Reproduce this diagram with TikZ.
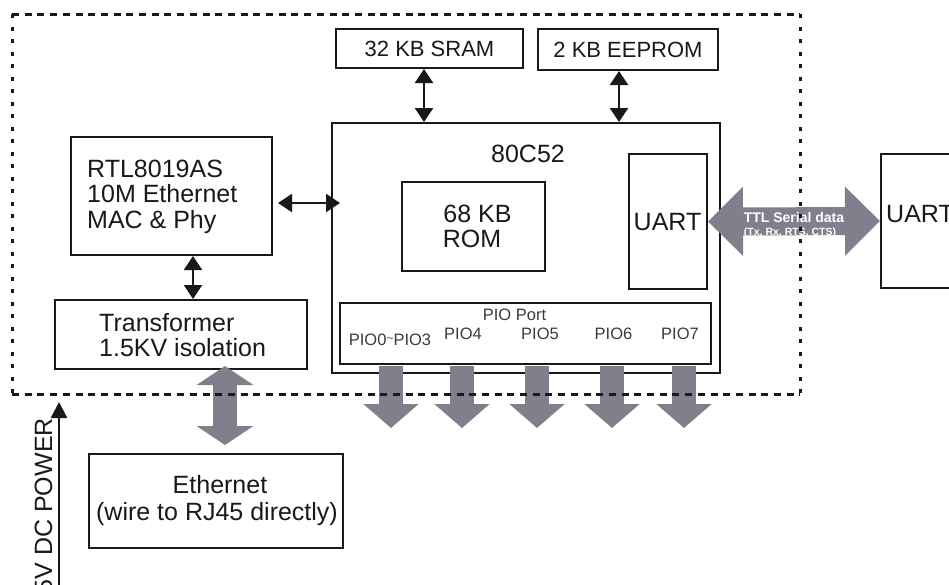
\documentclass[tikz,border=0pt]{standalone}
\usepackage{fontspec}
\setmainfont{Liberation Sans}
\usetikzlibrary{arrows.meta}
\definecolor{garrow}{RGB}{128,128,140}
\definecolor{ink}{RGB}{25,25,25}
\begin{document}
\begin{tikzpicture}[x=1pt,y=-1pt,
  box/.style args={#1/#2}{draw=ink,line width=2pt,minimum width=#1pt,minimum height=#2pt,inner sep=0pt},
  tA/.style={inner sep=0pt,text=ink,font=\fontsize{25}{25}\selectfont},
  tB/.style={inner sep=0pt,text=ink,font=\fontsize{22}{22}\selectfont},
  tP/.style={inner sep=0pt,anchor=base,text=ink!85,font=\fontsize{16.5}{16.5}\selectfont},
  barrow/.style={draw=ink,line width=2.5pt,{Triangle[width=18pt,length=14pt]}-{Triangle[width=18pt,length=14pt]}},
  gdbl/.style={draw=garrow,line width=24pt,{Triangle[width=56pt,length=19pt]}-{Triangle[width=56pt,length=19pt]}},
  gdown/.style={draw=garrow,line width=24pt,-{Triangle[width=54pt,length=24pt]}},
  dashH/.style={draw=ink,line width=3pt,dash pattern=on 7pt off 5.7pt},
  dotV/.style={draw=ink,line width=3pt,dash pattern=on 4pt off 8.5pt}]
\useasboundingbox (0,0) rectangle (949,584);
\clip (0,0) rectangle (949,584);
\fill[white] (0,0) rectangle (949,584);

% boxes
\node[box={187/39},tB] (sram) at (429.5,48.5) {32 KB SRAM};
\node[box={180/41},tB] (eep) at (628,49.5) {2 KB EEPROM};
\node[box={388/250}] (main) at (526,248) {};
\node[box={371/61}] (pio) at (525.5,333.5) {};
\node[box={143/89}] (rom) at (473.5,226.5) {};
\node[box={78/135}] (uart) at (668,221.5) {};
\node[box={80/134}] (uart2) at (921,221) {};
\node[box={201/118}] (rtl) at (171.5,196) {};
\node[box={252/69}] (trans) at (181,334.5) {};
\node[box={254/94}] (eth) at (216,501) {};

% texts
\node[tA,anchor=base] (t80) at (528,162) {80C52};
\node[tA,anchor=base] (trom1) at (477.5,222) {68 KB};
\node[tA,anchor=base] (trom2) at (472,247) {ROM};
\node[tA,anchor=base] (tuart) at (667.5,230) {UART};
\node[tA,anchor=base west] (tuart2) at (886,222) {UART};
\node[tA,anchor=base west] (trtl1) at (87,177) {RTL8019AS};
\node[tA,anchor=base west] (trtl2) at (87,202) {10M Ethernet};
\node[tA,anchor=base west] (trtl3) at (87,228) {MAC \& Phy};
\node[tA,anchor=base west] (ttr1) at (99,331) {Transformer};
\node[tA,anchor=base west] (ttr2) at (99,356) {1.5KV isolation};
\node[tA,anchor=base] (teth1) at (220,493) {Ethernet};
\node[tA,anchor=base] (teth2) at (217,520) {(wire to RJ45 directly)};
\node[tP] (tpp) at (514.5,320) {PIO Port};
\node[tP] (tp0) at (390,345) {PIO0\raisebox{0.15em}{\fontsize{12}{12}\selectfont\textasciitilde}PIO3};
\node[tP] (tp4) at (463,339) {PIO4};
\node[tP] (tp5) at (540,339) {PIO5};
\node[tP] (tp6) at (613.5,339) {PIO6};
\node[tP] (tp7) at (680,339) {PIO7};

% black arrows
\draw[barrow] ([xshift=-5.5pt]sram.south) -- ([xshift=-5.5pt]sram.south |- main.north);
\draw[barrow] ([xshift=-9pt]eep.south) -- ([xshift=-9pt]eep.south |- main.north);
\draw[barrow] ([shift={(5,7)}]rtl.east) -- ([shift={(9,7)}]rtl.east -| main.west);
\draw[barrow] ([xshift=21.5pt]rtl.south) -- ([xshift=21.5pt]rtl.south |- trans.north);

% gray block arrows
\coordinate (e1) at (225,366);
\coordinate (e2) at (225,445);
\draw[gdbl] (e1) -- (e2);
\draw[draw=garrow,line width=28pt,{Triangle[width=67pt,length=35pt]}-{Triangle[width=67pt,length=35pt]}] (uart.east) -- (uart2.west);
\node[inner sep=0pt,anchor=base,text=white,font=\fontsize{14}{14}\selectfont\bfseries] (tttl1) at (794,222) {TTL Serial data};
\node[inner sep=0pt,anchor=base,text=white,font=\fontsize{10.5}{10.5}\selectfont\bfseries] (tttl2) at (790,235) {(Tx, Rx, RTS, CTS)};
\foreach \d/\n in {52/a,123/b,198/c,273/d,345/e}{
  \draw[gdown] ([shift={(\d,1)}]pio.south west) -- ([shift={(\d,63)}]pio.south west);
}

% power arrow
\coordinate (pw0) at (59,590);
\coordinate (pw1) at (59,402);
\draw[draw=ink,line width=2.5pt,-{Triangle[width=16pt,length=16pt]}] (pw0) -- (pw1);
\node[tA,anchor=base east,rotate=90] (tpw) at (52,418) {5V DC POWER};

% dotted enclosure
\coordinate (d1) at (12,14);
\coordinate (d2) at (800,14);
\coordinate (d3) at (800,394);
\coordinate (d4) at (12,394);
\draw[dashH] (d1) -- (d2);
\draw[dashH] (d4) -- (d3);
\draw[dotV] (d1) -- (d4);
\draw[dotV] (d2) -- (d3);
\end{tikzpicture}
\end{document}
